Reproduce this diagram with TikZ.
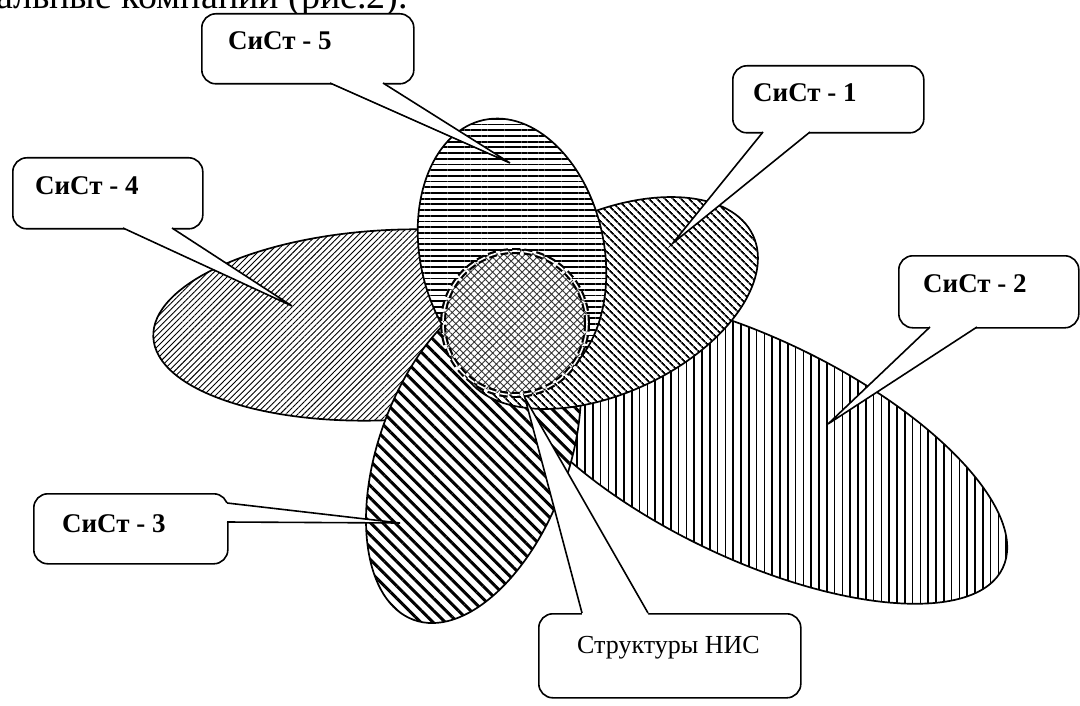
\documentclass[tikz,border=0pt]{standalone}
\usepackage{fontspec}
\setmainfont{Liberation Serif}
\usetikzlibrary{patterns.meta,calc}
\begin{document}
\begin{tikzpicture}[x=1pt,y=-1pt,
  outl/.style={draw=black, line width=1.7pt, preaction={fill=white}},
  callbox/.style={draw=black, line width=1.6pt, fill=white, rounded corners=14pt,
     inner sep=0pt, anchor=north west},
  wedgeline/.style={draw=black, line width=1.6pt, line join=miter},
  lbl/.style={font=\fontsize{27}{31}\selectfont\bfseries, anchor=base west, inner sep=0pt},
  lblr/.style={font=\fontsize{26}{30}\selectfont, anchor=base west, inner sep=0pt}]
\useasboundingbox (0,0) rectangle (1080,706);

% top page text (cut off by the picture edge)
\node[font=\fontsize{38}{44}\selectfont, anchor=base west, inner sep=0pt] (toptext) at (-4,9) {альные компании (рис.2).};

% ellipses (back to front)
% СиСт-2
\path[outl, pattern={Lines[angle=90,distance=7.8pt,line width=1.6pt]},
  x={(-25.6:1pt)}, y={(64.4:1pt)}] (752pt,-448pt) ellipse [x radius=278, y radius=110];
% СиСт-4
\path[outl, pattern={Lines[angle=45,distance=4.2pt,line width=0.9pt]},
  x={(3:1pt)}, y={(93:1pt)}] (390pt,-325pt) ellipse [x radius=237, y radius=95];
% СиСт-3
\path[outl, pattern={Lines[angle=-45,distance=8.7pt,line width=3pt]},
  x={(70:1pt)}, y={(160:1pt)}] (473.5pt,-455.4pt) ellipse [x radius=175, y radius=95];
% СиСт-1
\path[outl, pattern={Lines[angle=-45,distance=5.4pt,line width=1.8pt]},
  x={(25:1pt)}, y={(115:1pt)}] (608pt,-303pt) ellipse [x radius=160, y radius=90];
% СиСт-5
\path[outl, pattern={Lines[angle=0,distance=5.7pt,line width=1.8pt]},
  x={(12:1pt)}, y={(102:1pt)}] (512pt,-252pt) ellipse [x radius=92, y radius=135];
% НИС circle
\path[preaction={fill=white}, pattern={Hatch[angle=45,distance=5.2pt,line width=0.9pt]}, pattern color=black!80]
  (515,323) circle [radius=72pt];
\draw[line width=2.2pt, double=white, double distance=1.6pt, dash pattern=on 8pt off 4pt]
  (515,323) circle [radius=72pt];

% callout СиСт-5
\node[callbox, minimum width=212pt, minimum height=70pt] (c5) at (201,13) {};
\coordinate (b5a) at (330,83); \coordinate (b5b) at (383,83); \coordinate (t5) at (510,163);
\fill[white] ($(b5a)+(0,-3)$) -- (b5a) -- (t5) -- (b5b) -- ($(b5b)+(0,-3)$) -- cycle;
\draw[wedgeline] (b5a) -- (t5) -- (b5b);
\node[lbl] (l5) at (228,50) {СиСт - 5};

% callout СиСт-1
\node[callbox, minimum width=191pt, minimum height=67pt] (c1) at (732,65) {};
\coordinate (b1a) at (763,132); \coordinate (b1b) at (810,132); \coordinate (t1) at (673,243);
\fill[white] ($(b1a)+(0,-3)$) -- (b1a) -- (t1) -- (b1b) -- ($(b1b)+(0,-3)$) -- cycle;
\draw[wedgeline] (b1a) -- (t1) -- (b1b);
\node[lbl] (l1) at (753,102) {СиСт - 1};

% callout СиСт-4
\node[callbox, minimum width=190pt, minimum height=71pt] (c4) at (12,157) {};
\coordinate (b4a) at (123,228); \coordinate (b4b) at (172,228); \coordinate (t4) at (292,306);
\fill[white] ($(b4a)+(0,-3)$) -- (b4a) -- (t4) -- (b4b) -- ($(b4b)+(0,-3)$) -- cycle;
\draw[wedgeline] (b4a) -- (t4) -- (b4b);
\node[lbl] (l4) at (35,195) {СиСт - 4};

% callout СиСт-3
\node[callbox, minimum width=194pt, minimum height=70pt] (c3) at (33,493) {};
\coordinate (b3a) at (227,503); \coordinate (b3b) at (227,522); \coordinate (t3) at (400,523);
\fill[white] ($(b3a)+(-3,0)$) -- (b3a) -- (t3) -- (b3b) -- ($(b3b)+(-3,0)$) -- cycle;
\draw[wedgeline] (b3a) -- (t3) -- (b3b);
\node[lbl] (l3) at (62,532) {СиСт - 3};

% callout СиСт-2
\node[callbox, minimum width=180pt, minimum height=72pt] (c2) at (898,255) {};
\coordinate (b2a) at (930,327); \coordinate (b2b) at (977,327); \coordinate (t2) at (828,424);
\fill[white] ($(b2a)+(0,-3)$) -- (b2a) -- (t2) -- (b2b) -- ($(b2b)+(0,-3)$) -- cycle;
\draw[wedgeline] (b2a) -- (t2) -- (b2b);
\node[lbl] (l2) at (923,292) {СиСт - 2};

% callout Структуры НИС
\node[callbox, minimum width=262pt, minimum height=84pt] (cN) at (538,613) {};
\coordinate (bNa) at (582,613); \coordinate (bNb) at (648,613); \coordinate (tN) at (525,398);
\fill[white] ($(bNa)+(0,3)$) -- (bNa) -- (tN) -- (bNb) -- ($(bNb)+(0,3)$) -- cycle;
\draw[wedgeline] (bNa) -- (tN) -- (bNb);
\node[lblr] (lN) at (577,653) {Структуры НИС};
\end{tikzpicture}
\end{document}
